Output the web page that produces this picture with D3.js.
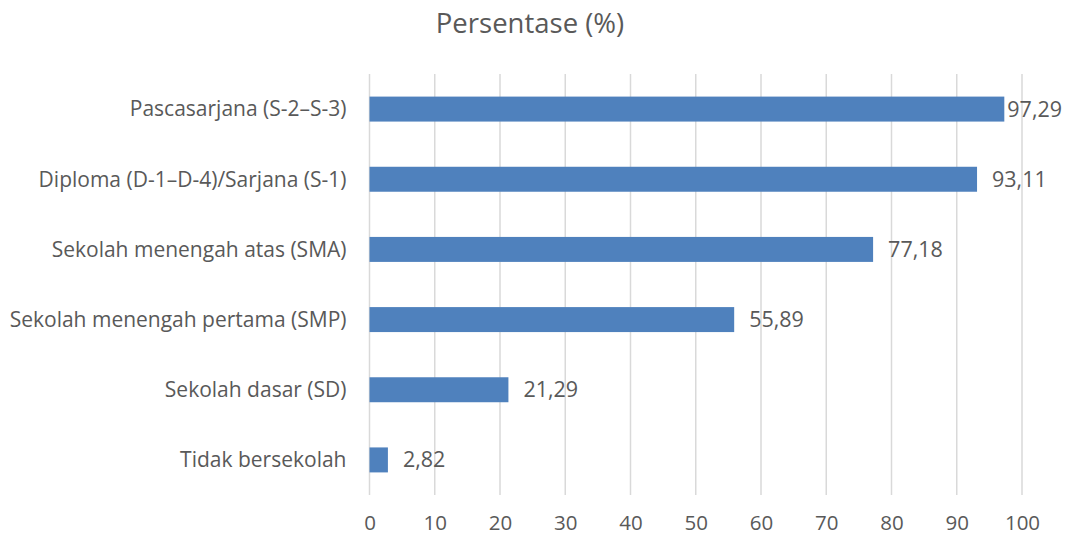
<!DOCTYPE html>
<html>
<head>
<meta charset="utf-8">
<script src="https://cdn.jsdelivr.net/npm/d3@7"></script>
<style>
  body { margin: 0; background: #fff; }
  text { font-family: "Open Sans", sans-serif; fill: #595959; }
</style>
</head>
<body>
<div id="viz"></div>
<script>
const categories = [
    "Pascasarjana (S-2–S-3)",
    "Diploma (D-1–D-4)/Sarjana (S-1)",
    "Sekolah menengah atas (SMA)",
    "Sekolah menengah pertama (SMP)",
    "Sekolah dasar (SD)",
    "Tidak bersekolah"
];
const values = [97.29, 93.11, 77.18, 55.89, 21.29, 2.82];
const ticks = [0, 10, 20, 30, 40, 50, 60, 70, 80, 90, 100];
const title = "Persentase (%)";

const width = 1068;
const height = 537;
const margin = { left: 369.5, right: 46, top: 74, bottom: 42 };

const data = categories.map((c, i) => ({ name: c, value: values[i] }));

const svg = d3.select("#viz").append("svg")
    .attr("width", width)
    .attr("height", height);

const xScale = d3.scaleLinear()
    .domain([0, 100])
    .range([margin.left, width - margin.right]);

const yScale = d3.scaleBand()
    .domain(categories)
    .range([margin.top, height - margin.bottom])
    .paddingInner(0.644)
    .paddingOuter(0.322);

const fmt = v => d3.format(".2f")(v).replace(".", ",");

// gridlines
svg.append("g")
    .selectAll("line")
    .data(ticks)
    .join("line")
        .attr("x1", d => xScale(d))
        .attr("x2", d => xScale(d))
        .attr("y1", margin.top)
        .attr("y2", height - margin.bottom)
        .attr("stroke", "#d9d9d9")
        .attr("stroke-width", 1.5);

// x axis
const xAxis = svg.append("g")
    .attr("transform", `translate(0,${height - margin.bottom})`)
    .call(d3.axisBottom(xScale).tickValues(ticks).tickSize(0).tickPadding(20));
xAxis.select(".domain").remove();
xAxis.selectAll("text")
    .style("font-family", "'Open Sans', sans-serif")
    .style("font-size", "20.5px")
    .attr("fill", "#595959");

// y labels
svg.append("g")
    .selectAll("text")
    .data(categories)
    .join("text")
        .attr("x", margin.left - 23)
        .attr("y", d => yScale(d) + yScale.bandwidth() / 2)
        .attr("dy", "0.35em")
        .attr("text-anchor", "end")
        .style("font-size", "21px")
        .text(d => d);

// bars
svg.append("g")
    .selectAll("rect")
    .data(data)
    .join("rect")
        .attr("x", xScale(0))
        .attr("y", d => yScale(d.name))
        .attr("width", d => xScale(d.value) - xScale(0))
        .attr("height", yScale.bandwidth())
        .attr("fill", "#4f81bd");

// value labels
svg.append("g")
    .selectAll("text")
    .data(data)
    .join("text")
        .attr("x", d => xScale(d.value) + (d.value > 95 ? 3 : 15))
        .attr("y", d => yScale(d.name) + yScale.bandwidth() / 2)
        .attr("dy", "0.35em")
        .style("font-size", "21.5px")
        .text(d => fmt(d.value));

// title
svg.append("text")
    .attr("x", 530)
    .attr("y", 33)
    .attr("text-anchor", "middle")
    .style("font-size", "27.5px")
    .text(title);
</script>
</body>
</html>
